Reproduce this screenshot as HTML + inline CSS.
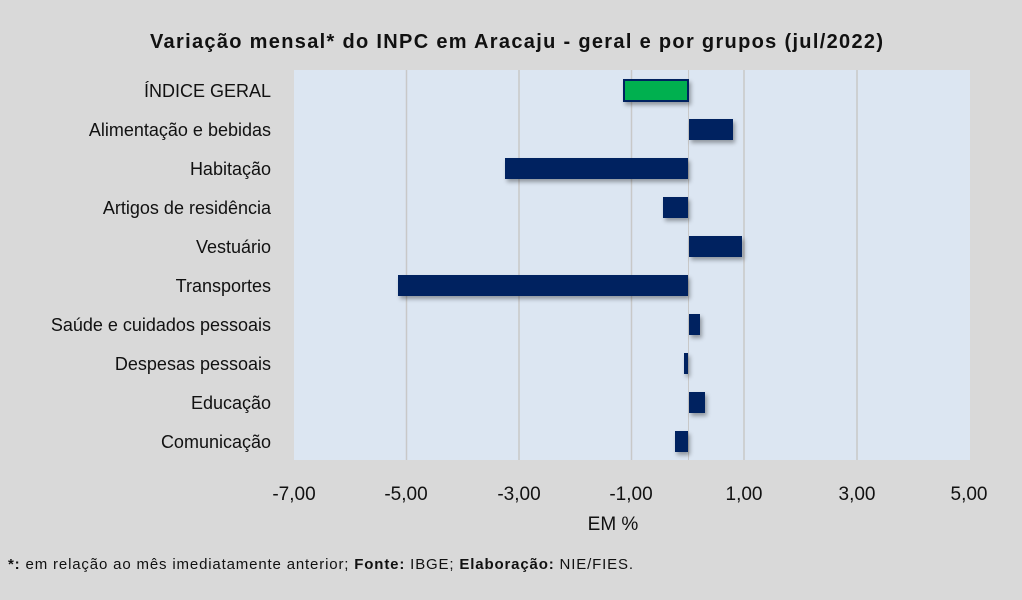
<!DOCTYPE html>
<html><head><meta charset="utf-8"><style>
body{margin:0;background:#d9d9d9;}
svg text{font-family:"Liberation Sans",sans-serif;}
</style></head><body>
<svg width="1022" height="595" xmlns="http://www.w3.org/2000/svg">
<defs><filter id="sh" x="-20%" y="-40%" width="140%" height="180%"><feDropShadow dx="2" dy="3" stdDeviation="2" flood-color="#000" flood-opacity="0.35"/></filter></defs>
<rect width="1022" height="595" fill="#d9d9d9"/>
<text x="150" y="48" textLength="733" lengthAdjust="spacing" font-size="20" font-weight="bold" fill="#111">Variação  mensal*  do INPC em Aracaju  - geral e por grupos  (jul/2022)</text>
<rect x="294" y="70" width="676" height="390" fill="#dce6f2"/>
<g stroke="#c8c8c8" stroke-width="1.5">
<line x1="406.5" y1="70" x2="406.5" y2="460"/><line x1="519" y1="70" x2="519" y2="460"/><line x1="631.5" y1="70" x2="631.5" y2="460"/><line x1="744" y1="70" x2="744" y2="460"/><line x1="857" y1="70" x2="857" y2="460"/>
</g>
<line x1="688.5" y1="70" x2="688.5" y2="460" stroke="#c8c8c8" stroke-width="1"/>
<g filter="url(#sh)" fill="#002060">
<rect x="624" y="80" width="64" height="21" fill="#00b050" stroke="#002060" stroke-width="2"/>
<rect x="689" y="119" width="44" height="21"/>
<rect x="505" y="158" width="183" height="21"/>
<rect x="663" y="197" width="25" height="21"/>
<rect x="689" y="236" width="53" height="21"/>
<rect x="398" y="275" width="290" height="21"/>
<rect x="689" y="314" width="11" height="21"/>
<rect x="684" y="353" width="4" height="21"/>
<rect x="689" y="392" width="16" height="21"/>
<rect x="675" y="431" width="13" height="21"/>
</g>
<g font-size="18" fill="#111" text-anchor="end">
<text x="271" y="97">ÍNDICE GERAL</text>
<text x="271" y="136">Alimentação e bebidas</text>
<text x="271" y="175">Habitação</text>
<text x="271" y="214">Artigos de residência</text>
<text x="271" y="253">Vestuário</text>
<text x="271" y="292">Transportes</text>
<text x="271" y="331">Saúde e cuidados pessoais</text>
<text x="271" y="370">Despesas pessoais</text>
<text x="271" y="409">Educação</text>
<text x="271" y="448">Comunicação</text>
</g>
<g font-size="19" fill="#111" text-anchor="middle">
<text x="294" y="500">-7,00</text><text x="406" y="500">-5,00</text><text x="519" y="500">-3,00</text><text x="631" y="500">-1,00</text><text x="744" y="500">1,00</text><text x="857" y="500">3,00</text><text x="969" y="500">5,00</text>
<text x="613" y="530">EM %</text>
</g>
<text x="8" y="569" font-size="15" textLength="625" lengthAdjust="spacing" fill="#111"><tspan font-weight="bold">*:</tspan> em relação ao mês imediatamente  anterior; <tspan font-weight="bold">Fonte:</tspan> IBGE; <tspan font-weight="bold">Elaboração:</tspan> NIE/FIES.</text>
</svg>
</body></html>
